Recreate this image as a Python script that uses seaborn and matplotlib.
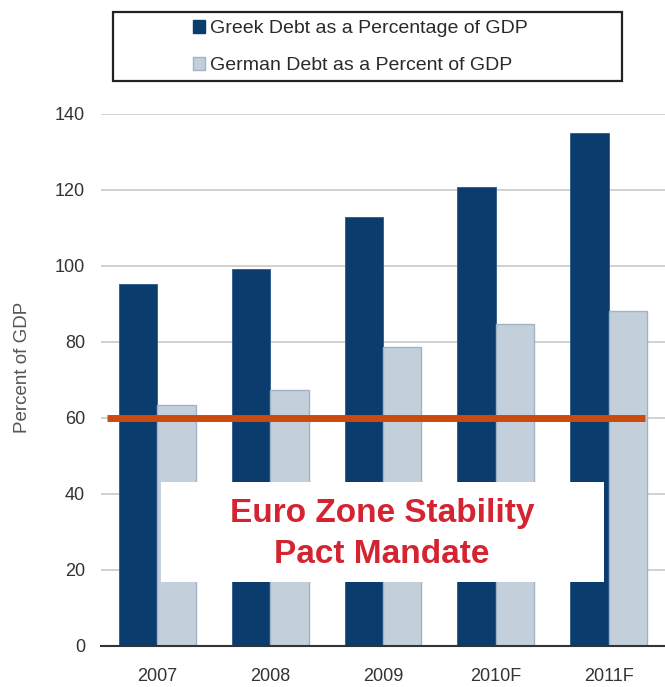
import matplotlib
matplotlib.use("Agg")
import matplotlib.pyplot as plt
import seaborn as sns
import pandas as pd
from matplotlib.patches import Rectangle, Patch

years = ["2007", "2008", "2009", "2010F", "2011F"]
greek = [95.3, 99.2, 112.9, 120.8, 135.0]
german = [63.4, 67.4, 78.7, 84.7, 88.2]
series_names = ["Greek Debt as a Percentage of GDP", "German Debt as a Percent of GDP"]
mandate = 60
y_ticks = [0, 20, 40, 60, 80, 100, 120, 140]

df = pd.DataFrame({
    "year": years * 2,
    "value": greek + german,
    "series": [series_names[0]] * len(years) + [series_names[1]] * len(years),
})

sns.set_style("white")
plt.rcParams["font.family"] = ["Liberation Sans", "DejaVu Sans"]

fig = plt.figure(figsize=(6.65, 6.87), dpi=100)
ax = fig.add_axes([101 / 665, 1 - 646 / 687, 1 - 101 / 665, (646 - 114) / 687])

navy = "#0A3C6E"
light = "#C3D0DC"
sns.barplot(data=df, x="year", y="value", hue="series", order=years,
            hue_order=series_names, palette=[navy, light], width=0.68,
            saturation=1, legend=False, ax=ax, zorder=2)
for i, p in enumerate(ax.patches):
    if i >= len(years):
        p.set_edgecolor("#9FB3C6")
        p.set_linewidth(1.0)
    else:
        p.set_edgecolor("#2A5A88")
        p.set_linewidth(0.6)

ax.set_xlim(-0.5, 4.447)
ax.set_ylim(0, 140)
ax.set_yticks(y_ticks)
ax.set_yticklabels([str(t) for t in y_ticks])
ax.yaxis.grid(True, color="#C9C9C9", linewidth=1.2, zorder=0)
ax.set_axisbelow(True)
for s in ["top", "right", "left"]:
    ax.spines[s].set_visible(False)
ax.spines["bottom"].set_color("#333333")
ax.spines["bottom"].set_linewidth(1.5)
ax.tick_params(axis="y", length=0, labelsize=13, labelcolor="#333333", pad=11.5)
ax.tick_params(axis="x", which="major", length=0, labelsize=13, labelcolor="#333333", pad=16)
ax.set_xticks([i - 0.5 for i in range(len(years) + 1)], minor=True)
ax.tick_params(axis="x", which="minor", length=5, width=1.2, color="#333333", direction="out")
ax.set_xlabel("")
ax.set_ylabel("Percent of GDP", fontsize=13.5, color="#555555")
ax.yaxis.set_label_coords(-0.124, 73.4 / 140)

# Stability pact mandate line
ax.plot([-0.45, 4.32], [mandate, mandate], color="#CC4A0E", linewidth=5, zorder=4,
        solid_capstyle="butt")

# White annotation box
ax.add_patch(Rectangle((0.03, 16.8), 3.93, 26.4, facecolor="white", edgecolor="none", zorder=5))
ax.text(1.99, 32.6, "Euro Zone Stability", ha="center", va="baseline", fontsize=24,
        fontweight="bold", color="#D42432", zorder=6)
ax.text(1.99, 21.8, "Pact Mandate", ha="center", va="baseline", fontsize=24,
        fontweight="bold", color="#D42432", zorder=6)

# Legend box
fig.patches.append(Rectangle((113 / 665, 1 - 81 / 687), (622 - 113) / 665, 69 / 687,
                             transform=fig.transFigure, facecolor="white",
                             edgecolor="#222222", linewidth=1.6, zorder=1))
handles = [Patch(facecolor=navy, edgecolor=navy), Patch(facecolor=light, edgecolor="#9FB3C6")]
fig.legend(handles, series_names, loc="upper left",
           bbox_to_anchor=(193 / 665, 1 - 20 / 687), frameon=False, fontsize=14,
           handlelength=0.6, handleheight=0.65, handletextpad=0.25, labelspacing=1.0,
           borderpad=0, borderaxespad=0, labelcolor="#2A2A2A")

fig.savefig("out.png", dpi=100)
